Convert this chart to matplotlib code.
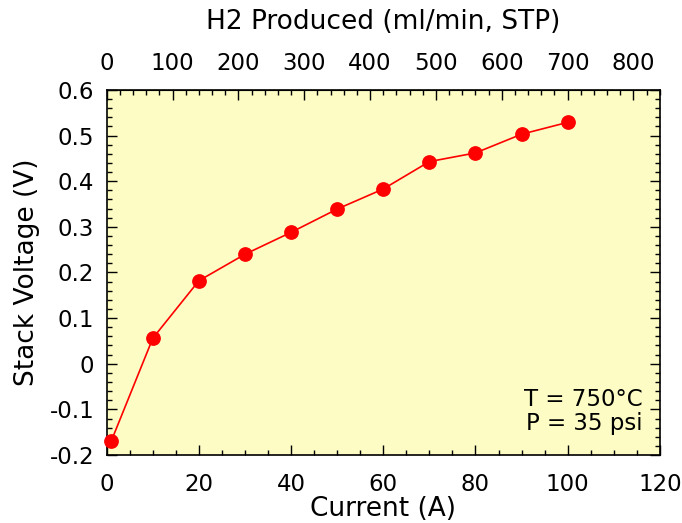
import matplotlib
matplotlib.use('Agg')
import matplotlib.pyplot as plt
from matplotlib.ticker import MultipleLocator, FixedLocator, FuncFormatter

plt.rcParams['font.family'] = ['DejaVu Sans']

current = [1, 10, 20, 30, 40, 50, 60, 70, 80, 90, 100]
voltage = [-0.169, 0.056, 0.182, 0.240, 0.288, 0.339, 0.383, 0.443, 0.462, 0.503, 0.529]
h2_ticks = [0, 100, 200, 300, 400, 500, 600, 700, 800]

# ml/min H2 (STP) per amp
ml_per_amp = 7.0

fig = plt.figure(figsize=(6.82, 5.23), dpi=100)
ax = fig.add_axes([0.1565, 0.130, 0.811, 0.698])
ax.set_facecolor('#FCFCC4')

ax.plot(current, voltage, '-o', color='#FF0000', lw=1.2, ms=9.6, clip_on=False, zorder=3)

ax.set_xlim(0, 120)
ax.set_ylim(-0.2, 0.6)
ax.xaxis.set_major_locator(MultipleLocator(20))
ax.xaxis.set_minor_locator(MultipleLocator(5))
ax.yaxis.set_major_locator(MultipleLocator(0.1))
ax.yaxis.set_minor_locator(MultipleLocator(0.02))
ax.yaxis.set_major_formatter(FuncFormatter(
    lambda v, p: '0' if abs(v) < 1e-9 else ('%g' % round(v, 2))))
ax.tick_params(which='both', direction='in', right=True, labelsize=16.5, width=1)
ax.tick_params(which='major', length=7)
ax.tick_params(which='minor', length=3.5)
ax.tick_params(axis='y', pad=9)
ax.tick_params(axis='x', pad=13)

ax.set_xlabel('Current (A)', fontsize=19, labelpad=0)
ax.set_ylabel('Stack Voltage (V)', fontsize=19, labelpad=7)

top = ax.secondary_xaxis('top', functions=(lambda i: i * ml_per_amp, lambda h: h / ml_per_amp))
top.xaxis.set_major_locator(FixedLocator(h2_ticks))
top.xaxis.set_minor_locator(FixedLocator(range(0, 841, 20)))
top.tick_params(which='both', direction='in', labelsize=16.5, width=1, pad=11)
top.tick_params(which='major', length=7)
top.tick_params(which='minor', length=3.5)
top.set_xlabel('H2 Produced (ml/min, STP)', fontsize=19, labelpad=16.5)

for s in ax.spines.values():
    s.set_linewidth(1.2)

ax.text(0.969, 0.119, 'T = 750°C\nP = 35 psi', transform=ax.transAxes,
        ha='right', va='center', fontsize=16.5, linespacing=1.1)

fig.savefig('out.png', dpi=100)
